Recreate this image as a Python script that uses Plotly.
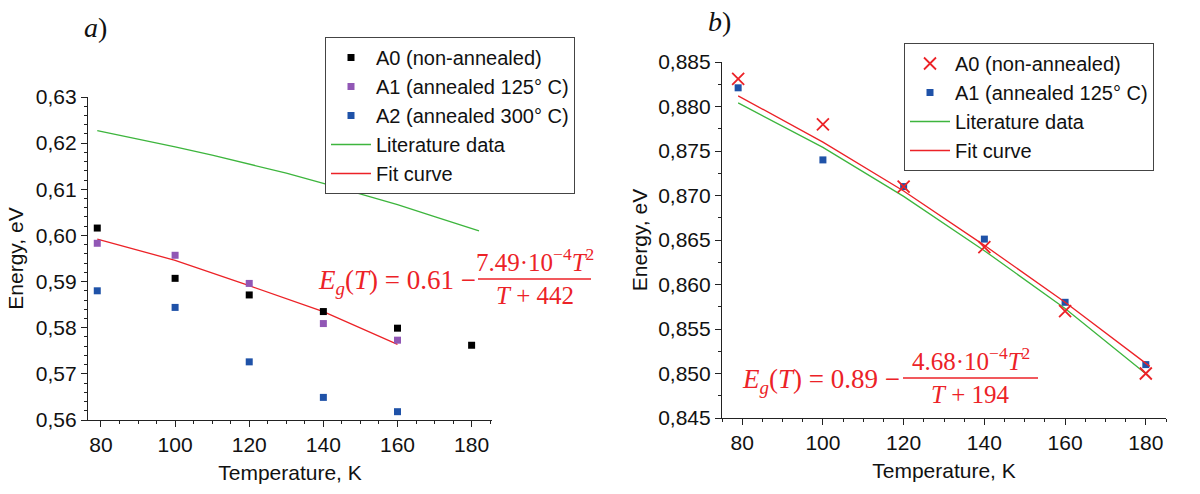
import plotly.graph_objects as go

# ---------- Panel a) data ----------
a_T = [79, 100, 120, 140, 160, 180]
a_A0 = [0.6016, 0.5907, 0.5871, 0.5835, 0.5799, 0.5762]
a_T5 = [79, 100, 120, 140, 160]
a_A1 = [0.5983, 0.5957, 0.5896, 0.5809, 0.5773]
a_A2 = [0.5880, 0.5844, 0.5726, 0.5649, 0.5618]
a_lit_T = [79, 90, 100, 110, 120, 130, 140, 150, 160, 170, 182]
a_lit = [0.6227, 0.6209, 0.6192, 0.6174, 0.6155, 0.6135, 0.6113, 0.6090, 0.6067, 0.6041, 0.6010]
a_fit_T = [79, 100, 120, 140, 160]
a_fit = [0.5992, 0.5946, 0.5891, 0.5835, 0.5764]

# ---------- Panel b) data ----------
b_T = [79, 100, 120, 140, 160, 180]
b_A0 = [0.8831, 0.8780, 0.8710, 0.8642, 0.8570, 0.8500]
b_A1 = [0.8821, 0.8740, 0.8710, 0.8651, 0.8580, 0.8510]
b_line_T = [79, 100, 120, 140, 160, 181]
b_lit = [0.8804, 0.8754, 0.8699, 0.8638, 0.8573, 0.8496]
b_fit = [0.8812, 0.8760, 0.8705, 0.8644, 0.8580, 0.8508]

names_a = ["A0 (non-annealed)", "A1 (annealed 125° C)", "A2 (annealed 300° C)",
           "Literature data", "Fit curve"]
names_b = ["A0 (non-annealed)", "A1 (annealed 125° C)", "Literature data", "Fit curve"]

BLACK = "#000000"
PURPLE = "#9157b5"
BLUE = "#1f52a8"
GREEN = "#3db53d"
RED = "#ec2227"

W, H = 1200, 494
def px(x): return x / W
def py(y): return 1 - y / H

fig = go.Figure()
sq = dict(symbol="square", size=7)

fig.add_trace(go.Scatter(x=a_lit_T, y=a_lit, mode="lines", name=names_a[3], legendrank=4,
                         line=dict(color=GREEN, width=1.3), xaxis="x", yaxis="y", legend="legend"))
fig.add_trace(go.Scatter(x=a_fit_T, y=a_fit, mode="lines", name=names_a[4], legendrank=5,
                         line=dict(color=RED, width=1.3), xaxis="x", yaxis="y", legend="legend"))
fig.add_trace(go.Scatter(x=a_T, y=a_A0, mode="markers", name=names_a[0], legendrank=1,
                         marker=dict(color=BLACK, **sq), xaxis="x", yaxis="y", legend="legend"))
fig.add_trace(go.Scatter(x=a_T5, y=a_A1, mode="markers", name=names_a[1], legendrank=2,
                         marker=dict(color=PURPLE, **sq), xaxis="x", yaxis="y", legend="legend"))
fig.add_trace(go.Scatter(x=a_T5, y=a_A2, mode="markers", name=names_a[2], legendrank=3,
                         marker=dict(color=BLUE, **sq), xaxis="x", yaxis="y", legend="legend"))

fig.add_trace(go.Scatter(x=b_T, y=b_A1, mode="markers", name=names_b[1], legendrank=2,
                         marker=dict(color=BLUE, **sq), xaxis="x2", yaxis="y2", legend="legend2"))
fig.add_trace(go.Scatter(x=b_line_T, y=b_lit, mode="lines", name=names_b[2], legendrank=3,
                         line=dict(color=GREEN, width=1.3), xaxis="x2", yaxis="y2", legend="legend2"))
fig.add_trace(go.Scatter(x=b_line_T, y=b_fit, mode="lines", name=names_b[3], legendrank=4,
                         line=dict(color=RED, width=1.3), xaxis="x2", yaxis="y2", legend="legend2"))
fig.add_trace(go.Scatter(x=b_T, y=b_A0, mode="markers", name=names_b[0], legendrank=1,
                         marker=dict(color=RED, symbol="x-thin", size=12,
                                     line=dict(color=RED, width=1.8)),
                         xaxis="x2", yaxis="y2", legend="legend2"))

axfont = dict(family="Liberation Sans, Arial", size=21, color="#111")
common = dict(showline=True, linecolor="#222", linewidth=1.2, ticks="outside",
              ticklen=6, tickwidth=1.2, tickcolor="#222", showgrid=False, zeroline=False,
              tickfont=axfont, title_font=axfont, automargin=False)
legfont = dict(family="Liberation Sans, Arial", size=20, color="#111")

fig.update_layout(
    width=W, height=H, margin=dict(l=0, r=0, t=0, b=0, pad=0, autoexpand=False),
    paper_bgcolor="white", plot_bgcolor="white", separators=", ",
    xaxis=dict(domain=[px(88), px(492)], range=[76.5, 185.5], anchor="y",
               dtick=20, tick0=80, minor=dict(dtick=5, tick0=80, ticks="outside", ticklen=3,
                                               tickcolor="#222"),
               title=dict(text="Temperature, K", standoff=10), **common),
    yaxis=dict(domain=[py(420), py(97)], range=[0.56, 0.63], anchor="x",
               dtick=0.01, tickformat=".2f",
               minor=dict(dtick=0.002, ticks="outside", ticklen=3, tickcolor="#222"),
               title=dict(text="Energy, eV", standoff=6), **common),
    xaxis2=dict(domain=[px(722), px(1166)], range=[75, 185], anchor="y2",
                dtick=20, tick0=80, minor=dict(dtick=5, tick0=80, ticks="outside", ticklen=3,
                                                tickcolor="#222"),
                title=dict(text="Temperature, K", standoff=10), **common),
    yaxis2=dict(domain=[py(418), py(62)], range=[0.845, 0.885], anchor="x2",
                dtick=0.005, tickformat=".3f",
                minor=dict(dtick=0.0025, ticks="outside", ticklen=3, tickcolor="#222"),
                title=dict(text="Energy, eV", standoff=4), **common),
    legend=dict(x=px(325), y=py(37), xanchor="left", yanchor="top",
                bordercolor="#444", borderwidth=1, bgcolor="white",
                font=legfont, itemwidth=40, tracegroupgap=0),
    legend2=dict(x=px(904), y=py(43), xanchor="left", yanchor="top",
                 bordercolor="#444", borderwidth=1, bgcolor="white",
                 font=legfont, itemwidth=40, tracegroupgap=0),
    showlegend=True,
)

serif = "Liberation Serif, Times New Roman"
anns = []
anns.append(dict(x=px(95), y=py(28), text="<i>a</i>)", showarrow=False,
                 xref="paper", yref="paper", xanchor="center", yanchor="middle",
                 font=dict(family=serif, size=28, color="#111")))
anns.append(dict(x=px(719), y=py(22), text="<i>b</i>)", showarrow=False,
                 xref="paper", yref="paper", xanchor="center", yanchor="middle",
                 font=dict(family=serif, size=28, color="#111")))

def formula(x_right_main, y_mid, const, num, den, x_frac_l, x_frac_r):
    f = dict(family=serif, size=27, color=RED)
    f2 = dict(family=serif, size=25, color=RED)
    anns.append(dict(x=px(x_right_main), y=py(y_mid + 3), xanchor="right", yanchor="middle",
                     xref="paper", yref="paper",
                     text=f"<i>E</i><sub><i>g</i></sub>(<i>T</i>) = {const} −",
                     showarrow=False, font=f))
    cx = (x_frac_l + x_frac_r) / 2
    anns.append(dict(x=px(cx), y=py(y_mid - 1), xanchor="center", yanchor="bottom",
                     xref="paper", yref="paper",
                     text=num, showarrow=False, font=f2))
    anns.append(dict(x=px(cx), y=py(y_mid + 1), xanchor="center", yanchor="top",
                     xref="paper", yref="paper",
                     text=den, showarrow=False, font=f2))
    fig.add_shape(type="line", xref="paper", yref="paper",
                  x0=px(x_frac_l), x1=px(x_frac_r), y0=py(y_mid), y1=py(y_mid),
                  line=dict(color=RED, width=1.3))

formula(478, 279, "0.61", "7.49·10<sup>−4</sup><i>T</i><sup>2</sup>",
        "<i>T</i> + 442", 478, 591)
formula(902, 378, "0.89", "4.68·10<sup>−4</sup><i>T</i><sup>2</sup>",
        "<i>T</i> + 194", 903, 1038)

fig.update_layout(annotations=anns)
fig.write_html("out.html", config={"displayModeBar": False},
               post_script="document.body.style.margin='0px';document.body.style.padding='0px';")
